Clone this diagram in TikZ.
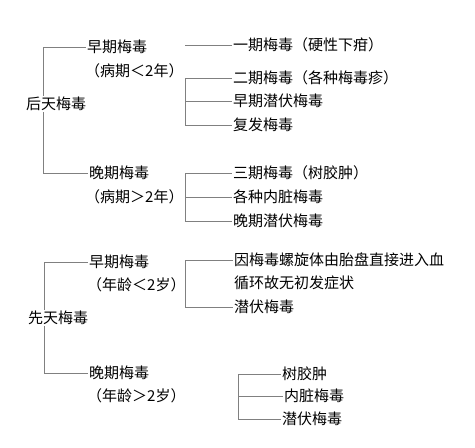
\documentclass[tikz,border=0pt]{standalone}
\usepackage{fontspec}
\setmainfont{Noto Sans CJK SC}
\usetikzlibrary{positioning,calc}

\tikzset{
  txt/.style={anchor=west, inner sep=1pt, font=\fontsize{15}{18}\selectfont, text=black},
  branch/.style={draw=black!50, line width=0.6pt},
}

\begin{document}
\begin{tikzpicture}[x=1pt, y=-1pt]
\useasboundingbox (0,0) rectangle (475,448);

% 后天梅毒
\node[txt] (acquired) at (25,104) {后天梅毒};
\node[txt] (early) at (86,47) {早期梅毒};
\node[txt] (earlynote) at (84,71) {（病期＜2年）};
\node[txt] (late) at (88,173) {晚期梅毒};
\node[txt] (latenote) at (84,197) {（病期＞2年）};

\node[txt] (primary) at (232,45) {一期梅毒（硬性下疳）};
\node[txt] (secondary) at (232,78) {二期梅毒（各种梅毒疹）};
\node[txt] (earlylatent) at (232,101) {早期潜伏梅毒};
\node[txt] (relapse) at (232,125) {复发梅毒};
\node[txt] (tertiary) at (232,173) {三期梅毒（树胶肿）};
\node[txt] (visceral) at (232,197) {各种内脏梅毒};
\node[txt] (latelatent) at (232,221) {晚期潜伏梅毒};

% 先天梅毒
\node[txt] (congenital) at (27,318) {先天梅毒};
\node[txt] (cearly) at (88,262) {早期梅毒};
\node[txt] (cearlynote) at (86,285) {（年龄＜2岁）};
\node[txt] (clate) at (88,373) {晚期梅毒};
\node[txt] (clatenote) at (86,396) {（年龄＞2岁）};

\node[txt] (transplacental) at (233,260) {因梅毒螺旋体由胎盘直接进入血};
\node[txt] (transplacental2) at (233,283) {循环故无初发症状};
\node[txt] (clatent) at (233,307) {潜伏梅毒};
\node[txt] (gumma) at (281,374) {树胶肿};
\node[txt] (cvisceral) at (283,396) {内脏梅毒};
\node[txt] (clatent2) at (281,419) {潜伏梅毒};

% 竖线
\coordinate (trunka) at (43,0);
\coordinate (trunkb) at (44,0);
\coordinate (bra) at (185,0);
\coordinate (brb) at (238,0);

\draw[branch] (early.west -| trunka) -- (acquired.north -| trunka);
\draw[branch] (acquired.south -| trunka) -- (late.west -| trunka);
\draw[branch] (cearly.west -| trunkb) -- (congenital.north -| trunkb);
\draw[branch] (congenital.south -| trunkb) -- (clate.west -| trunkb);

\draw[branch] (secondary.west -| bra) -- (relapse.west -| bra);
\draw[branch] (tertiary.west -| bra) -- (latelatent.west -| bra);
\draw[branch] (transplacental.west -| bra) -- (clatent.west -| bra);
\draw[branch] (gumma.west -| brb) -- (clatent2.west -| brb);

% 横线
\draw[branch] (early.west -| trunka) -- (early.west);
\draw[branch] (late.west -| trunka) -- (late.west);
\draw[branch] (cearly.west -| trunkb) -- (cearly.west);
\draw[branch] (clate.west -| trunkb) -- (clate.west);

\foreach \n in {primary, secondary, earlylatent, relapse, tertiary, visceral, latelatent, transplacental, clatent}
  \draw[branch] (\n.west -| bra) -- (\n.west);
\foreach \n in {gumma, cvisceral, clatent2}
  \draw[branch] (\n.west -| brb) -- (\n.west);
\end{tikzpicture}
\end{document}
